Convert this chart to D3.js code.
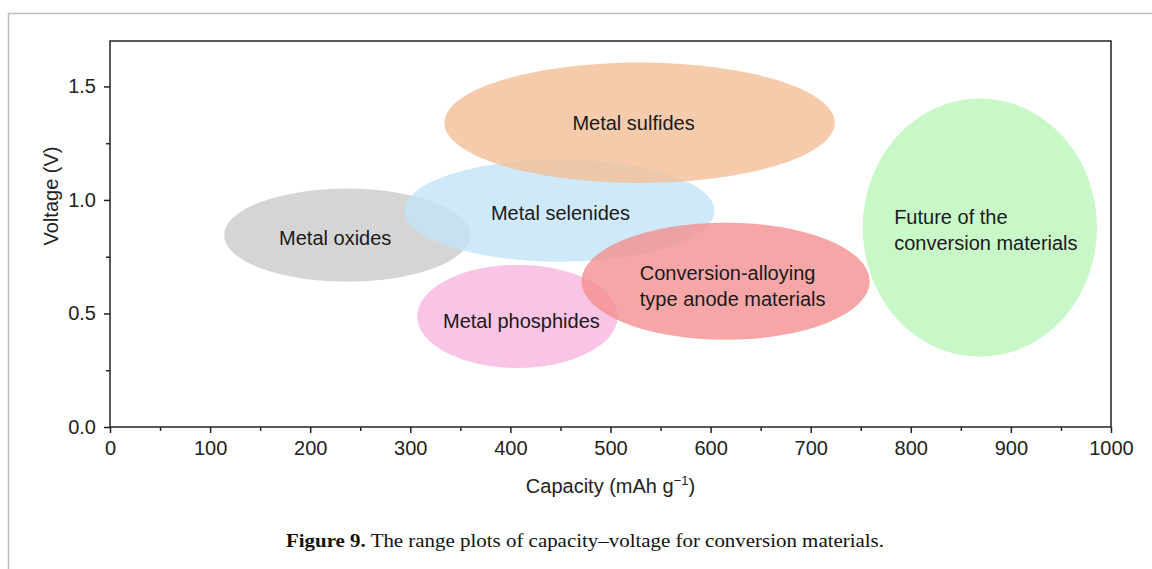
<html>
<script src="https://cdnjs.cloudflare.com/ajax/libs/d3/7.8.5/d3.min.js"></script>
<style>
body {margin:0; background:#fff;}
text {font-family: "Liberation Sans", Arial, sans-serif;}
</style>
<body>
<svg id="chart" width="1152" height="569"></svg>
<script>
// ranges of each material family (centre capacity, centre voltage, half-widths)
const names = ["Metal oxides", "Metal selenides", "Metal sulfides", "Metal phosphides", "Conversion-alloying|type anode materials", "Future of the|conversion materials"];
const capCenter = [237, 449, 529, 407, 615, 869];
const capHalf = [123, 155, 195, 100, 144, 117];
const voltCenter = [0.845, 0.953, 1.34, 0.487, 0.642, 0.878];
const voltHalf = [0.205, 0.225, 0.265, 0.227, 0.258, 0.569];
// where each label sits (capacity, voltage)
const labelCap = [225, 450, 523, 411, 622, 875];
const labelVolt = [0.834, 0.944, 1.341, 0.468, 0.622, 0.869];
const colors = ["#cacaca", "#c0e3f9", "#f4be96", "#f8b5e0", "#f49090", "#baf6ba"];

const xTicks = [0,100,200,300,400,500,600,700,800,900,1000];
const yTicks = [0, 0.5, 1.0, 1.5];

const margin = {top: 41, left: 110, right: 41, bottom: 142};
const svg = d3.select("#chart");
const W = 1152, H = 569;

// page frame
svg.append("path").attr("d", "M8.5,569V13.5H1152").attr("fill","none").attr("stroke","#bdbdbd").attr("stroke-width",1.5);

const x = d3.scaleLinear().domain([0,1000]).range([margin.left, W - margin.right]);
const y = d3.scaleLinear().domain([0,1.7]).range([H - margin.bottom, margin.top]);

const g = svg.append("g");
g.selectAll("ellipse").data(names).enter().append("ellipse")
  .attr("cx", (d,i) => x(capCenter[i]))
  .attr("cy", (d,i) => y(voltCenter[i]))
  .attr("rx", (d,i) => x(capHalf[i]) - x(0))
  .attr("ry", (d,i) => y(0) - y(voltHalf[i]))
  .attr("fill", (d,i) => colors[i])
  .attr("fill-opacity", 0.8);

names.forEach((n,i) => {
  const lines = n.split("|");
  const t = g.append("text").attr("font-size", 20).attr("fill", "#1a1a1a");
  const cy = y(labelVolt[i]);
  const lh = 26;
  lines.forEach((l,k) => {
    t.append("tspan").attr("x", x(labelCap[i])).attr("y", cy + 7 + (k - (lines.length-1)/2) * lh).text(l);
  });
  if (lines.length > 1) {
    // left-aligned block centred on the label point
    let wmax = 0;
    t.selectAll("tspan").each(function(){ wmax = Math.max(wmax, this.getComputedTextLength()); });
    t.selectAll("tspan").attr("x", x(labelCap[i]) - wmax/2);
  } else {
    t.attr("text-anchor", "middle");
  }
});

// frame box
svg.append("rect").attr("x", margin.left).attr("y", margin.top)
  .attr("width", W - margin.left - margin.right).attr("height", H - margin.top - margin.bottom)
  .attr("fill","none").attr("stroke","#222").attr("stroke-width",1.5);

// axes
svg.append("g").attr("transform", "translate(0," + (H - margin.bottom) + ")")
  .call(d3.axisBottom(x).tickValues(xTicks).tickSize(6).tickPadding(8).tickFormat(d3.format("d")));
svg.append("g").attr("transform", "translate(0," + (H - margin.bottom) + ")")
  .call(d3.axisBottom(x).tickValues(d3.range(50,1000,100)).tickSize(4).tickFormat(""));
svg.append("g").attr("transform", "translate(" + margin.left + ",0)")
  .call(d3.axisLeft(y).tickValues(yTicks).tickSize(6).tickPadding(8).tickFormat(d3.format(".1f")));
svg.append("g").attr("transform", "translate(" + margin.left + ",0)")
  .call(d3.axisLeft(y).tickValues([0.25,0.75,1.25]).tickSize(4).tickFormat(""));

svg.selectAll(".domain").remove();
svg.selectAll(".tick line").attr("stroke","#222").attr("stroke-width",1.5);
svg.selectAll(".tick text").attr("font-size",20).attr("fill","#222")
  .attr("font-family","Liberation Sans, Arial, sans-serif");

// axis titles
const xt = svg.append("text").attr("x", x(500)).attr("y", 493).attr("text-anchor","middle")
  .attr("font-size",20).attr("fill","#222");
xt.append("tspan").text("Capacity (mAh g");
xt.append("tspan").attr("dy",-8).attr("font-size",13).text("\u22121");
xt.append("tspan").attr("dy",8).text(")");

svg.append("text").attr("transform","translate(58,196) rotate(-90)")
  .attr("text-anchor","middle").attr("font-size",20).attr("fill","#222").text("Voltage (V)");

// caption
const cap = svg.append("text").attr("x", 585).attr("y", 547).attr("text-anchor","middle")
  .attr("font-size",19).attr("fill","#111").style("font-family","Liberation Serif, serif")
  .attr("textLength", 598).attr("lengthAdjust","spacingAndGlyphs");
cap.append("tspan").attr("font-weight","bold").text("Figure 9.");
cap.append("tspan").text(" The range plots of capacity\u2013voltage for conversion materials.");
</script>
</body>
</html>
